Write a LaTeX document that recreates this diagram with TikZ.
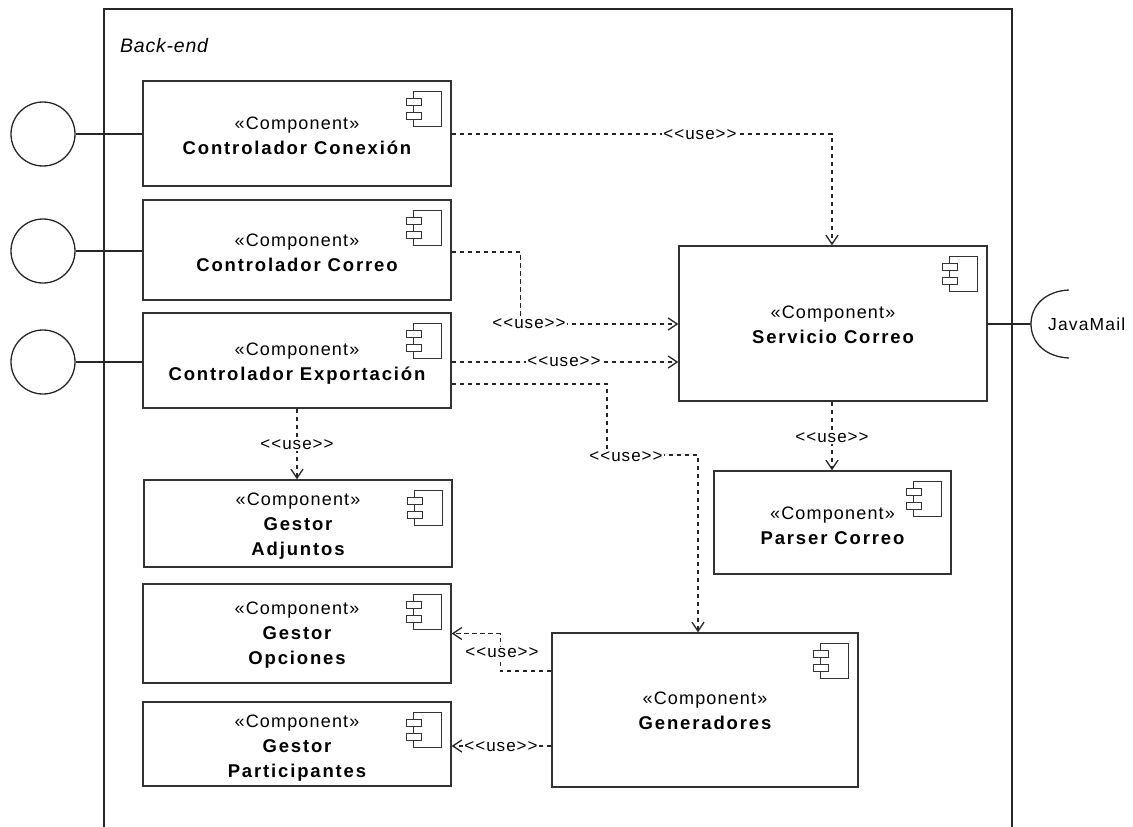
\documentclass[tikz,border=0pt]{standalone}
\usepackage{fontspec}
\setmainfont{Liberation Sans}
\newfontfamily\stereofont[LetterSpace=6.5]{Liberation Sans}
\newfontfamily\namefont[LetterSpace=10]{Liberation Sans Bold}
\newfontfamily\relfont[LetterSpace=6,Ligatures=TeXOff]{Liberation Sans}
\newfontfamily\framefont[LetterSpace=4]{Liberation Sans Italic}
\usetikzlibrary{arrows.meta}

\tikzset{
  comp/.style={draw=black!80, line width=1.4pt, fill=white, inner sep=0pt},
  ctext/.style={align=center, inner sep=0pt,
    font={\namefont\fontsize{18.5}{25}\selectfont}},
  iconline/.style={draw=black!80, line width=1.2pt},
  compicon/.pic={
    \draw[iconline] (-38,11) rectangle (-10,46);
    \draw[iconline, fill=white] (-45,18) rectangle (-30,25);
    \draw[iconline, fill=white] (-45,32) rectangle (-30,39);
  },
  dep/.style={draw=black!85, line width=1.3pt, dash pattern=on 4.5pt off 3.5pt,
    -{Straight Barb[length=9pt,width=12pt]}},
  lbl/.style={fill=white, inner sep=1pt, font={\relfont\fontsize{17}{17}\selectfont}},
  iface/.style={circle, draw=black!85, line width=1.3pt, minimum size=64pt, inner sep=0pt},
  wire/.style={draw=black!85, line width=1.3pt},
}
\newcommand{\stereo}{{\stereofont\fontsize{18}{25}\selectfont «Component»}}

\begin{document}
\begin{tikzpicture}[x=1pt,y=-1pt]
\useasboundingbox (0,0) rectangle (1133,827);

% Back-end frame, open at the bottom
\draw[wire, line width=1.4pt] (104,827) -- (104,9) -- (1012,9) -- (1012,827);
\node[anchor=west, inner sep=0pt, font={\framefont\fontsize{19.5}{19.5}\selectfont}] (frame) at (120,46) {Back-end};

% component boxes
\node[comp, minimum width=308pt, minimum height=105pt] (cc)  at (297,133.5) {};
\node[comp, minimum width=308pt, minimum height=100pt] (cco) at (297,250)   {};
\node[comp, minimum width=308pt, minimum height=95pt]  (cex) at (297,360.5) {};
\node[comp, minimum width=308pt, minimum height=87pt]  (ga)  at (298,523.5) {};
\node[comp, minimum width=308pt, minimum height=99pt]  (go)  at (297,633.5) {};
\node[comp, minimum width=308pt, minimum height=84pt]  (gp)  at (297,744)   {};
\node[comp, minimum width=308pt, minimum height=155pt] (sc)  at (833,323.5) {};
\node[comp, minimum width=237pt, minimum height=103pt] (pc)  at (832.5,522.5) {};
\node[comp, minimum width=306pt, minimum height=154pt] (gen) at (705,710)   {};

% component texts
\node[ctext] (cc-t)  at ([yshift=-2.5pt]cc.center)  {\stereo\\Controlador Conexión};
\node[ctext] (cco-t) at ([yshift=-3pt]cco.center)   {\stereo\\Controlador Correo};
\node[ctext] (cex-t) at ([yshift=-3pt]cex.center)   {\stereo\\Controlador Exportación};
\node[ctext] (ga-t)  at ([yshift=-2.5pt]ga.center)  {\stereo\\Gestor\\Adjuntos};
\node[ctext] (go-t)  at ([yshift=-1.5pt]go.center)  {\stereo\\Gestor\\Opciones};
\node[ctext] (gp-t)  at ([yshift=-4.5pt]gp.center)  {\stereo\\Gestor\\Participantes};
\node[ctext] (sc-t)  at ([yshift=-1.5pt]sc.center)  {\stereo\\Servicio Correo};
\node[ctext] (pc-t)  at ([yshift=-3.5pt]pc.center)  {\stereo\\Parser Correo};
\node[ctext] (gen-t) at ([yshift=-1pt]gen.center)   {\stereo\\Generadores};

\foreach \n in {cc,cco,cex,ga,go,gp,sc,pc,gen}
  \pic at (\n.north east) {compicon};

% provided interfaces
\node[iface] (i1) at (43,134) {};
\node[iface] (i2) at (43,251) {};
\node[iface] (i3) at (43,362) {};
\draw[wire] (i1.east) -- (cc.west |- i1.east);
\draw[wire] (i2.east) -- (cco.west |- i2.east);
\draw[wire] (i3.east) -- (cex.west |- i3.east);

% required interface JavaMail
\coordinate (jm) at (1031,324);
\draw[wire] (sc.east |- jm) -- (jm);
\draw[wire] (1069,290) .. controls (1046,291) and (1031,305) .. (jm)
            .. controls (1031,343) and (1046,357) .. (1069,358);
\node[anchor=west, inner sep=0pt, font={\stereofont\fontsize{17.5}{17.5}\selectfont}] (jml) at (1048,324) {JavaMail};

% dependencies
\draw[dep] (cc.east |- 0,134) -| (sc.north -| 832,0);
\draw[dep] (cco.east |- 0,252) -- ++(69,0) |- (sc.west |- 0,324);
\draw[dep] (cex.east |- 0,362) -- (sc.west |- 0,362);
\draw[dep] (cex.east |- 0,384) -| (607,455) -| (gen.north -| 698,0);
\draw[dep] (cex.south) -- (cex.south |- ga.north);
\draw[dep] (sc.south -| 832,0) -- (pc.north -| 832,0);
\draw[dep] (gen.west |- 0,671) -- ++(-51,0) |- (go.east);
\draw[dep] (gen.west |- 0,746) -- (gp.east |- 0,746);

% dependency labels
\node[lbl] (l1) at (700,135) {<<use>>};
\node[lbl] (l2) at (529,324) {<<use>>};
\node[lbl] (l3) at (564,362) {<<use>>};
\node[lbl] (l4) at (626,457) {<<use>>};
\node[lbl] (l5) at (297,445) {<<use>>};
\node[lbl] (l6) at (832,438) {<<use>>};
\node[lbl] (l7) at (502,653) {<<use>>};
\node[lbl] (l8) at (501,747) {<<use>>};
\end{tikzpicture}
\end{document}
